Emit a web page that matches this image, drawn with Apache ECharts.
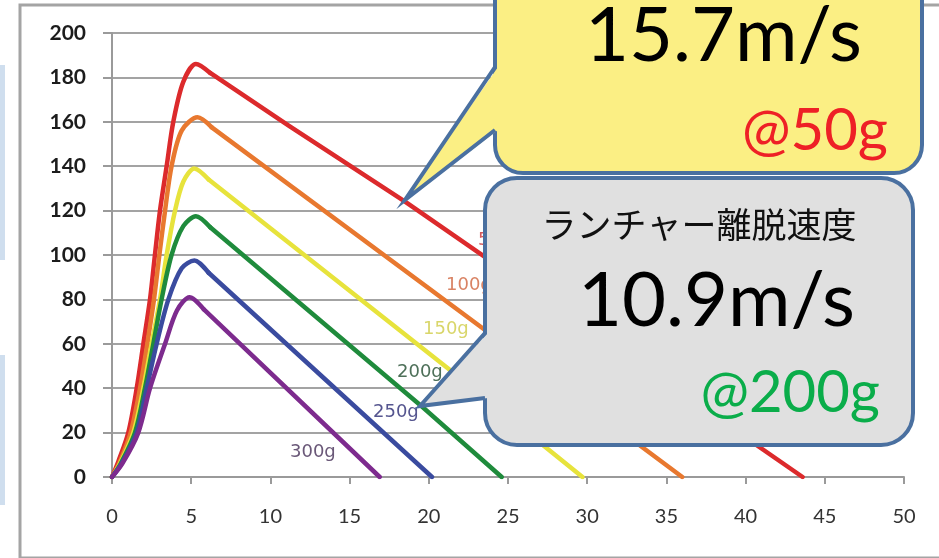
<!DOCTYPE html>
<html>
<head>
<meta charset="utf-8">
<script src="https://cdn.jsdelivr.net/npm/echarts@6/dist/echarts.min.js"></script>
<style>
  html, body { margin: 0; padding: 0; background: #ffffff; }
  #chart { width: 939px; height: 558px; }
</style>
</head>
<body>
<div id="chart"></div>
<script>
// Flight time (x) vs. speed (y) for each launch mass
const xTicks = [0, 5, 10, 15, 20, 25, 30, 35, 40, 45, 50];
const yTicks = [0, 20, 40, 60, 80, 100, 120, 140, 160, 180, 200];
const massLabels = ['50g', '100g', '150g', '200g', '250g', '300g'];

// Acceleration phase (curved, up to just past the peak)
const rise50g  = [[0,0],[0.4,7],[1.03,20],[1.56,40],[1.98,60],[2.4,80],[2.71,100],[3.03,120],[3.45,140],[3.87,160],[4.5,178],[5.3,186],[6.2,182]];
const rise100g = [[0,0],[0.45,6],[1.18,20],[1.77,40],[2.23,60],[2.65,80],[2.99,100],[3.35,120],[3.76,140],[4.4,156],[5.4,162],[6.3,157.5]];
const rise150g = [[0,0],[0.5,6],[1.35,20],[1.98,40],[2.5,60],[3.03,80],[3.45,100],[3.98,120],[4.5,133],[5.2,139],[6.1,134]];
const rise200g = [[0,0],[0.55,6],[1.45,20],[2.08,40],[2.61,60],[3.13,80],[3.76,100],[4.5,113],[5.3,117.5],[6.2,112.5]];
const rise250g = [[0,0],[0.6,6],[1.56,20],[2.19,40],[2.82,60],[3.56,80],[4.4,94],[5.2,97.5],[6.1,92]];
const rise300g = [[0,0],[0.65,6],[1.66,20],[2.4,40],[3.35,60],[4.1,75],[4.9,81],[5.8,75.5]];

// Deceleration phase (straight, down to zero speed)
const fall50g  = [[6.2,182],[11.2,158],[18.5,124],[43.6,0]];
const fall100g = [[6.3,157.5],[23.4,67],[36.0,0]];
const fall150g = [[6.1,134],[21.2,49],[29.7,0]];
const fall200g = [[6.2,112.5],[19.6,31.5],[24.6,0]];
const fall250g = [[6.1,92],[20.2,0]];
const fall300g = [[5.8,75.5],[16.9,0]];

const rises = [rise50g, rise100g, rise150g, rise200g, rise250g, rise300g];
const falls = [fall50g, fall100g, fall150g, fall200g, fall250g, fall300g];
const lineColors  = ['#dc2a2c', '#e8782f', '#e7e33c', '#1f8b3c', '#3a4b9f', '#7d2b8e'];
const labelColors = ['#d4595c', '#d98364', '#d9d66a', '#4e7059', '#55558f', '#6a5878'];

const chart = echarts.init(document.getElementById('chart'), null, { renderer: 'canvas' });

const series = [];
massLabels.forEach((name, i) => {
  const common = {
    name: name,
    type: 'line',
    showSymbol: false,
    silent: true,
    z: 2 + i,
    lineStyle: { color: lineColors[i], width: 4.5, cap: 'round', join: 'round' }
  };
  series.push(Object.assign({}, common, { data: rises[i], smooth: 0.3 }));
  series.push(Object.assign({}, common, { data: falls[i], smooth: false }));
});

// Curve name labels, drawn along the descending lines
const labelPos = [[478, 240], [446, 285], [423, 329], [397, 372], [373, 412], [290, 452]];
const curveLabels = massLabels.map((t, i) => ({
  type: 'text',
  x: labelPos[i][0],
  y: labelPos[i][1],
  z: 10,
  style: {
    text: t,
    font: '18px "DejaVu Sans", sans-serif',
    fill: labelColors[i],
    textVerticalAlign: 'middle',
    textAlign: 'left'
  }
}));

const calloutStroke = '#4a70a0';

function callout(box, tail, fill, zBase) {
  return [
    { type: 'rect', z: zBase, shape: { x: box[0], y: box[1], width: box[2], height: box[3], r: box[4] },
      style: { fill: fill, stroke: calloutStroke, lineWidth: 4 } },
    { type: 'polygon', z: zBase + 1,
      shape: { points: [[tail[0][0] + 3, tail[0][1]], tail[1], [tail[2][0] + 3, tail[2][1]]] },
      style: { fill: fill } },
    { type: 'polyline', z: zBase + 2, shape: { points: tail },
      style: { stroke: calloutStroke, lineWidth: 4, fill: null, lineJoin: 'miter' } }
  ];
}

const bigFont = '76px Lato, "Open Sans", sans-serif';
const massFont = '58px Lato, sans-serif';

chart.setOption({
  animation: false,
  backgroundColor: '#ffffff',
  grid: { left: 112, right: 35, top: 33, bottom: 81 },
  xAxis: {
    type: 'value',
    min: 0, max: 50, interval: 5,
    axisLine: { show: true, lineStyle: { color: '#9a9a9a', width: 2 } },
    axisTick: { show: true, length: 7, lineStyle: { color: '#9a9a9a', width: 2 } },
    splitLine: { show: false },
    axisLabel: {
      margin: 30,
      color: '#333333',
      fontSize: 20,
      fontFamily: 'Lato, sans-serif',
      formatter: v => String(v)
    }
  },
  yAxis: {
    type: 'value',
    min: 0, max: 200, interval: 20,
    axisLine: { show: true, lineStyle: { color: '#9a9a9a', width: 2 } },
    axisTick: { show: true, length: 9, lineStyle: { color: '#9a9a9a', width: 2 } },
    splitLine: { show: true, lineStyle: { color: '#a3a3a3', width: 2 } },
    axisLabel: {
      margin: 26,
      color: '#1c1c1c',
      fontSize: 21,
      fontWeight: 'bold',
      fontFamily: 'Lato, sans-serif',
      formatter: v => String(v)
    }
  },
  series: series,
  graphic: [
    // outer frame and side strips
    { type: 'rect', z: 0, silent: true, shape: { x: 20, y: 5, width: 940, height: 553 },
      style: { fill: null, stroke: '#a4a4a4', lineWidth: 3 } },
    { type: 'rect', z: 0, shape: { x: 0, y: 65, width: 5, height: 195 }, style: { fill: '#cfdeee' } },
    { type: 'rect', z: 0, shape: { x: 0, y: 355, width: 5, height: 150 }, style: { fill: '#cfdeee' } },
    ...curveLabels,
    // yellow callout (50g)
    ...callout([495, -80, 427, 253, 28], [[495, 67], [405, 200], [495, 130]], '#fbef84', 20),
    { type: 'text', z: 30, x: 862, y: 36,
      style: { text: '15.7m/s', font: bigFont, fill: '#000000', textAlign: 'right', textVerticalAlign: 'middle' } },
    { type: 'text', z: 30, x: 888, y: 131,
      style: { text: '@50g', font: massFont, fill: '#ee2026', textAlign: 'right', textVerticalAlign: 'middle' } },
    // grey callout (200g)
    ...callout([485, 178, 428, 267, 32], [[485, 333], [420, 406], [485, 398]], '#e0e0e0', 40),
    { type: 'text', z: 50, x: 699, y: 225,
      style: { text: 'ランチャー離脱速度', font: '35px "Noto Sans CJK JP", sans-serif', fill: '#111111', textAlign: 'center', textVerticalAlign: 'middle' } },
    { type: 'text', z: 50, x: 855, y: 301,
      style: { text: '10.9m/s', font: bigFont, fill: '#000000', textAlign: 'right', textVerticalAlign: 'middle' } },
    { type: 'text', z: 50, x: 880, y: 393,
      style: { text: '@200g', font: massFont, fill: '#0aad4a', textAlign: 'right', textVerticalAlign: 'middle' } }
  ]
});
</script>
</body>
</html>
